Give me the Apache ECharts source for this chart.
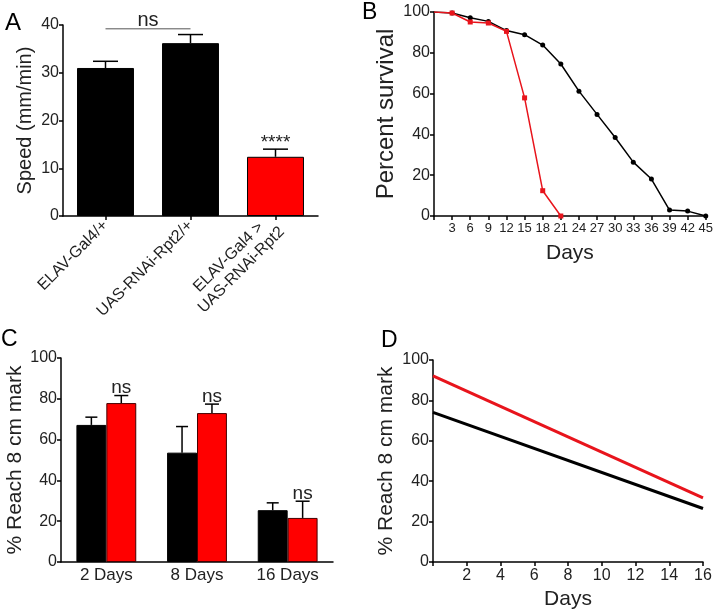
<!DOCTYPE html>
<html>
<head>
<meta charset="utf-8">
<script src="https://cdn.jsdelivr.net/npm/echarts@6/dist/echarts.min.js"></script>
<style>
  html, body { margin: 0; padding: 0; background: #fff; }
  #chart { width: 716px; height: 613px; }
</style>
</head>
<body>
<div id="chart"></div>
<script>
// Panel A - walking speed
const speedCats = ['ELAV-Gal4/+', 'UAS-RNAi-Rpt2/+', 'ELAV-Gal4 >\nUAS-RNAi-Rpt2'];
const speedMean = [31.0, 36.2, 12.4];
const speedErr = [1.4, 1.8, 1.6];

// Panel B - survival
const survivalDays = [0, 3, 6, 9, 12, 15, 18, 21, 24, 27, 30, 33, 36, 39, 42, 45];
const survivalCtrl = [100, 99.5, 97.2, 95.4, 90.9, 88.9, 83.8, 74.5, 61.2, 49.8, 38.5, 26.4, 18.1, 2.9, 2.4, 0];
const survivalRpt2 = [100, 99.5, 95.1, 94.6, 90.5, 57.9, 12.4, 0];

// Panel C - climbing
const climbCats = ['2 Days', '8 Days', '16 Days'];
const climbCtrl = [67.2, 53.6, 25.4];
const climbCtrlErr = [3.8, 12.8, 3.6];
const climbRpt2 = [77.9, 73.0, 21.6];
const climbRpt2Err = [3.7, 4.4, 8.2];

// Panel D - linear fits
const fitDays = [0, 16];
const fitCtrl = [74.1, 26.5];
const fitRpt2 = [92.1, 31.7];

const RED = '#ff0000';
const LINE_RED = '#e8141c';
const TXT = '#222';
const FONT = 'Liberation Sans';

var chart = echarts.init(document.getElementById('chart'));

function pairs(xs, ys) {
  return ys.map(function (y, i) { return [xs[i], y]; });
}

function axisY(grid, max, interval, name, gap, nameSize) {
  return {
    type: 'value', gridIndex: grid, min: 0, max: max, interval: interval,
    name: name, nameLocation: 'middle', nameGap: gap,
    nameTextStyle: { fontSize: nameSize, color: TXT, fontFamily: FONT },
    axisLine: { show: true, lineStyle: { color: '#000', width: 1.5 } },
    axisTick: { show: true, length: 4, lineStyle: { color: '#000', width: 1.5 } },
    axisLabel: { fontSize: 16, color: TXT, fontFamily: FONT, margin: 4 },
    splitLine: { show: false }
  };
}

// error bar (upward only) drawn through the axis scale
function errBar(means, errs, offsetFrac, capPx) {
  return function (params, api) {
    var i = params.dataIndex;
    var band = api.size([1, 0])[0];
    var dx = band * offsetFrac;
    var p0 = api.coord([i, means[i]]);
    var p1 = api.coord([i, means[i] + errs[i]]);
    var x = p0[0] + dx;
    return {
      type: 'group',
      children: [
        { type: 'line', shape: { x1: x, y1: p0[1], x2: x, y2: p1[1] }, style: { stroke: '#000', lineWidth: 1.5 } },
        { type: 'line', shape: { x1: x - capPx / 2, y1: p1[1], x2: x + capPx / 2, y2: p1[1] }, style: { stroke: '#000', lineWidth: 1.5 } }
      ]
    };
  };
}

var option = {
  backgroundColor: '#fff',
  animation: false,
  textStyle: { fontFamily: FONT },
  graphic: [
    { type: 'text', left: 5, top: 11, style: { text: 'A', fontSize: 24, fill: '#000', fontFamily: FONT } },
    { type: 'text', left: 362, top: 1, style: { text: 'B', fontSize: 23, fill: '#000', fontFamily: FONT } },
    { type: 'text', left: 1, top: 328, style: { text: 'C', fontSize: 23, fill: '#000', fontFamily: FONT } },
    { type: 'text', left: 381, top: 329, style: { text: 'D', fontSize: 23, fill: '#000', fontFamily: FONT } }
  ],
  grid: [
    { left: 63, top: 25, width: 255, height: 191 },
    { left: 434, top: 12, width: 274, height: 204 },
    { left: 61, top: 358, width: 272, height: 204 },
    { left: 433, top: 360, width: 270, height: 202 }
  ],
  xAxis: [
    {
      type: 'category', gridIndex: 0, data: speedCats,
      axisLine: { lineStyle: { color: '#000', width: 1.5 } },
      axisTick: { show: true, alignWithLabel: true, length: 4, lineStyle: { color: '#000', width: 1.5 } },
      axisLabel: {
        rotate: 45, fontSize: 16, color: TXT, fontFamily: FONT, margin: 7, interval: 0, align: 'right',
        formatter: function (v) {
          return v.split('\n').map(function (s) { return '{c|' + s + '}'; }).join('\n');
        },
        rich: { c: { fontSize: 16, color: TXT, fontFamily: FONT, align: 'center', lineHeight: 18 } }
      }
    },
    {
      type: 'value', gridIndex: 1, min: 0, max: 45, interval: 3,
      name: 'Days', nameLocation: 'middle', nameGap: 27,
      nameTextStyle: { fontSize: 21, color: TXT, fontFamily: FONT },
      axisLine: { lineStyle: { color: '#000', width: 1.5 } },
      axisTick: { show: true, length: 4, lineStyle: { color: '#000', width: 1.5 } },
      axisLabel: { fontSize: 13, color: TXT, fontFamily: FONT, margin: 6,
        formatter: function (v) { return v === 0 ? '' : v; } },
      splitLine: { show: false }
    },
    {
      type: 'category', gridIndex: 2, data: climbCats,
      axisLine: { lineStyle: { color: '#000', width: 1.5 } },
      axisTick: { show: false },
      axisLabel: { fontSize: 17, color: TXT, fontFamily: FONT, margin: 5 }
    },
    {
      type: 'value', gridIndex: 3, min: 0, max: 16, interval: 2,
      name: 'Days', nameLocation: 'middle', nameGap: 27,
      nameTextStyle: { fontSize: 21, color: TXT, fontFamily: FONT },
      axisLine: { lineStyle: { color: '#000', width: 1.5 } },
      axisTick: { show: true, length: 4, lineStyle: { color: '#000', width: 1.5 } },
      axisLabel: { fontSize: 16, color: TXT, fontFamily: FONT, margin: 6,
        formatter: function (v) { return v === 0 ? '' : v; } },
      splitLine: { show: false }
    }
  ],
  yAxis: [
    axisY(0, 40, 10, 'Speed (mm/min)', 28, 20),
    axisY(1, 100, 20, 'Percent survival', 36, 24),
    axisY(2, 100, 20, '% Reach 8 cm mark', 35, 21),
    axisY(3, 100, 20, '% Reach 8 cm mark', 36, 21)
  ],
  series: [
    // A
    {
      type: 'bar', xAxisIndex: 0, yAxisIndex: 0, barWidth: '67%',
      data: speedMean.map(function (v, i) {
        return { value: v, itemStyle: { color: i === 2 ? RED : '#000' } };
      }),
      itemStyle: { borderColor: '#000', borderWidth: 1 }
    },
    {
      type: 'custom', xAxisIndex: 0, yAxisIndex: 0, data: speedMean, z: 3,
      renderItem: errBar(speedMean, speedErr, 0, 25)
    },
    {
      type: 'custom', xAxisIndex: 0, yAxisIndex: 0, data: [0], z: 4,
      renderItem: function (params, api) {
        var a = api.coord([0, 39.2]);
        var b = api.coord([1, 39.2]);
        var s = api.coord([2, speedMean[2] + speedErr[2]]);
        return {
          type: 'group',
          children: [
            { type: 'line', shape: { x1: a[0], y1: a[1], x2: b[0], y2: b[1] }, style: { stroke: '#555', lineWidth: 1 } },
            { type: 'text', style: { x: (a[0] + b[0]) / 2, y: a[1] + 2, text: 'ns', fontSize: 20, fill: TXT, fontFamily: FONT, align: 'center', verticalAlign: 'bottom' } },
            { type: 'text', style: { x: s[0], y: s[1] + 3, text: '****', fontSize: 19, fill: TXT, fontFamily: FONT, align: 'center', verticalAlign: 'bottom' } }
          ]
        };
      }
    },
    // B
    {
      type: 'line', xAxisIndex: 1, yAxisIndex: 1,
      data: pairs(survivalDays, survivalCtrl).map(function (p, i) {
        return i === 0 ? { value: p, symbol: 'none' } : p;
      }),
      symbol: 'circle', symbolSize: 5,
      lineStyle: { color: '#000', width: 1.5 }, itemStyle: { color: '#000' }, z: 2
    },
    {
      type: 'line', xAxisIndex: 1, yAxisIndex: 1,
      data: pairs(survivalDays, survivalRpt2).map(function (p, i) {
        return i === 0 ? { value: p, symbol: 'none' } : p;
      }),
      symbol: 'rect', symbolSize: 5,
      lineStyle: { color: LINE_RED, width: 1.5 }, itemStyle: { color: LINE_RED }, z: 3
    },
    // C
    {
      type: 'bar', xAxisIndex: 2, yAxisIndex: 2, barWidth: '33%', barGap: '0%',
      data: climbCtrl, itemStyle: { color: '#000', borderColor: '#000', borderWidth: 1 }
    },
    {
      type: 'bar', xAxisIndex: 2, yAxisIndex: 2, barWidth: '33%', barGap: '0%',
      data: climbRpt2, itemStyle: { color: RED, borderColor: '#400', borderWidth: 1 }
    },
    {
      type: 'custom', xAxisIndex: 2, yAxisIndex: 2, data: climbCtrl, z: 3,
      renderItem: errBar(climbCtrl, climbCtrlErr, -0.165, 12)
    },
    {
      type: 'custom', xAxisIndex: 2, yAxisIndex: 2, data: climbRpt2, z: 3,
      renderItem: function (params, api) {
        var g = errBar(climbRpt2, climbRpt2Err, 0.165, 14)(params, api);
        var i = params.dataIndex;
        var band = api.size([1, 0])[0];
        var p = api.coord([i, climbRpt2[i] + climbRpt2Err[i]]);
        g.children.push({ type: 'text', style: { x: p[0] + band * 0.165, y: p[1] + 2, text: 'ns', fontSize: 19, fill: TXT, fontFamily: FONT, align: 'center', verticalAlign: 'bottom' } });
        return g;
      }
    },
    // D
    {
      type: 'line', xAxisIndex: 3, yAxisIndex: 3, data: pairs(fitDays, fitCtrl),
      symbol: 'none', lineStyle: { color: '#000', width: 3 }
    },
    {
      type: 'line', xAxisIndex: 3, yAxisIndex: 3, data: pairs(fitDays, fitRpt2),
      symbol: 'none', lineStyle: { color: LINE_RED, width: 3 }
    }
  ]
};

chart.setOption(option);
</script>
</body>
</html>
